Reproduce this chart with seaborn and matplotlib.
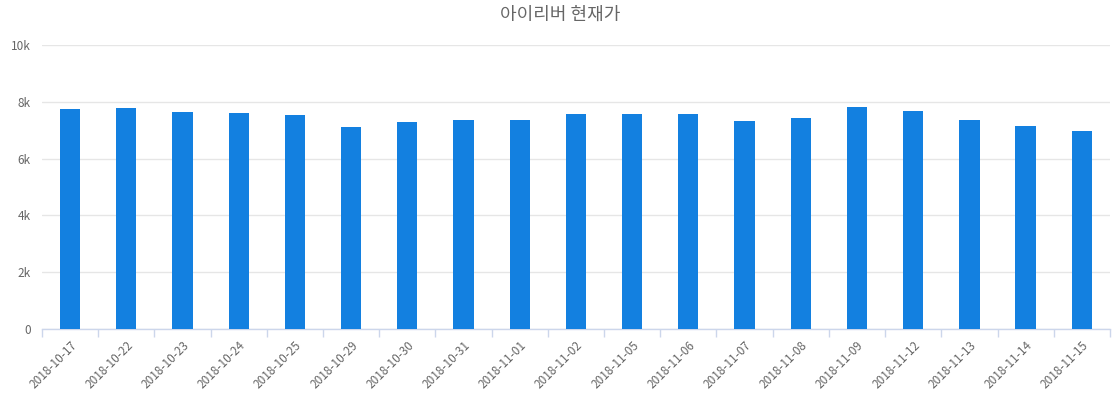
import matplotlib as mpl

mpl.use("Agg")

import matplotlib.pyplot as plt
import numpy as np
import pandas as pd
import seaborn as sns
from matplotlib.ticker import FuncFormatter, FixedLocator

sns.set_theme(style="white")
plt.rcParams["font.family"] = ["Noto Sans CJK KR", "DejaVu Sans"]

TITLE = "아이리버 현재가"
dates = [
    "2018-10-17", "2018-10-22", "2018-10-23", "2018-10-24", "2018-10-25",
    "2018-10-29", "2018-10-30", "2018-10-31", "2018-11-01", "2018-11-02",
    "2018-11-05", "2018-11-06", "2018-11-07", "2018-11-08", "2018-11-09",
    "2018-11-12", "2018-11-13", "2018-11-14", "2018-11-15",
]
prices = [
    7750, 7790, 7650, 7610, 7540,
    7120, 7290, 7360, 7360, 7580,
    7580, 7580, 7330, 7430, 7820,
    7680, 7360, 7150, 6970,
]
yticks = [0, 2000, 4000, 6000, 8000, 10000]

BAR_COLOR = "#1380e0"
TEXT_GRAY = "#666666"
GRID_GRAY = "#e6e6e6"
AXIS_GRAY = "#ccd6eb"

df = pd.DataFrame({"date": dates, "price": prices})

fig = plt.figure(figsize=(11.2, 4.0), dpi=100)
ax = fig.add_axes([0.0375, 0.1775, 0.9535, 0.71])

sns.barplot(data=df, x="date", y="price", color=BAR_COLOR, width=0.36,
            saturation=1, linewidth=0, ax=ax, zorder=3)

n = len(dates)
ax.set_xlim(-0.5, n - 0.5)
ax.set_ylim(0, 10000)
ax.set_yticks(yticks)
ax.yaxis.set_major_formatter(FuncFormatter(lambda v, _: "0" if v == 0 else f"{int(v / 1000)}k"))
ax.grid(axis="y", color=GRID_GRAY, linewidth=1, zorder=0)
ax.set_axisbelow(True)

for side in ["left", "right", "top"]:
    ax.spines[side].set_visible(False)
ax.spines["bottom"].set_color(AXIS_GRAY)
ax.spines["bottom"].set_linewidth(1)

# labels at centres, tick marks on category boundaries
ax.tick_params(axis="x", which="major", length=0, pad=7)
ax.xaxis.set_minor_locator(FixedLocator(np.arange(-0.5, n, 1.0)))
ax.tick_params(axis="x", which="minor", length=6, color=AXIS_GRAY, width=1, bottom=True)
ax.tick_params(axis="y", length=0, pad=8)
for lab in ax.get_xticklabels():
    lab.set_rotation(45)
    lab.set_ha("right")
    lab.set_rotation_mode("anchor")
    lab.set_fontsize(8.5)
    lab.set_color(TEXT_GRAY)
for lab in ax.get_yticklabels():
    lab.set_fontsize(8.5)
    lab.set_color(TEXT_GRAY)

ax.set_xlabel("")
ax.set_ylabel("")
fig.suptitle(TITLE, y=0.985, fontsize=13, color="#666666")

fig.savefig("out.png", dpi=100)
plt.close(fig)
